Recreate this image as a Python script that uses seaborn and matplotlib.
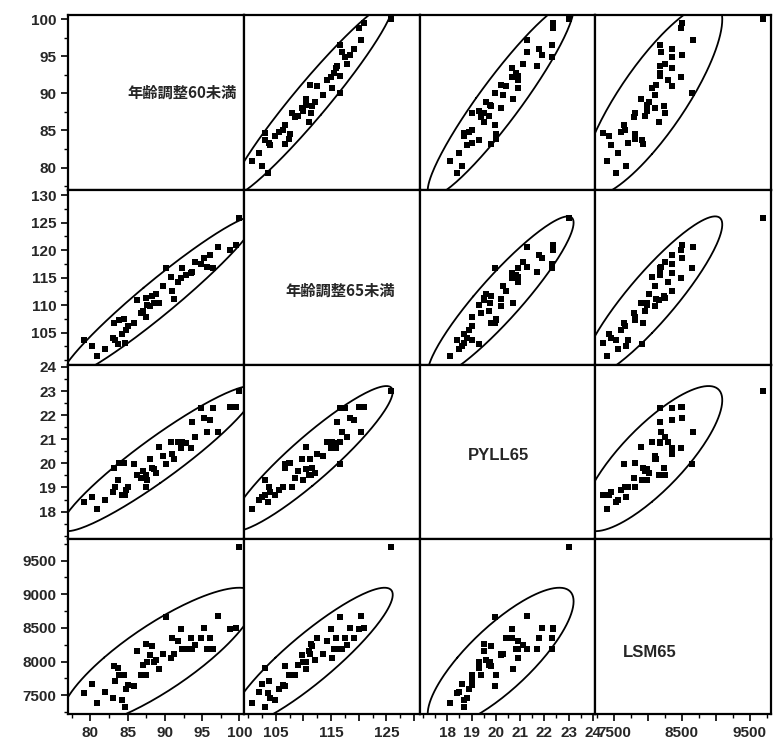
import matplotlib
matplotlib.use("Agg")
import matplotlib.pyplot as plt
from matplotlib.ticker import MultipleLocator, FixedLocator
import seaborn as sns
import numpy as np
import pandas as pd

age60 = [79.2, 80.2, 80.9, 83.0, 83.2, 83.3, 83.7, 83.9, 84.2, 84.5,
         84.6, 85.1, 85.8, 86.2, 87.4, 87.4, 87.6, 88.0, 88.3, 88.5,
         89.2, 90.1, 90.8, 91.0, 91.2, 92.2, 92.3, 92.8, 93.5, 93.7,
         94.9, 95.2, 95.6, 96.5, 97.2, 98.8, 99.5, 100.0, 86.8, 88.8,
         89.8, 91.8, 84.8, 94.0, 82.0, 87.0, 96.0]
age65 = [103.6, 102.5, 100.7, 104.0, 106.7, 103.7, 103.0, 107.3, 104.8, 107.5,
         103.1, 106.3, 106.7, 111.0, 107.9, 111.3, 110.0, 109.8, 111.6, 110.4,
         110.4, 116.7, 115.2, 112.5, 111.1, 114.9, 116.7, 115.5, 115.8, 116.0,
         117.5, 118.5, 117.0, 116.7, 120.5, 120.0, 121.0, 125.9, 108.5, 112.0,
         113.5, 114.3, 105.5, 117.8, 102.0, 109.0, 119.2]
pyll65 = [18.4, 18.6, 18.1, 18.8, 19.8, 19.0, 19.3, 20.0, 18.7, 20.0,
          18.7, 19.0, 19.96, 19.5, 19.0, 19.5, 19.3, 20.2, 19.8, 19.75,
          20.7, 19.96, 20.9, 20.4, 20.2, 20.65, 20.9, 20.85, 20.65, 21.7,
          22.3, 21.9, 21.3, 22.3, 21.3, 22.35, 22.35, 23.0, 19.4, 19.6,
          20.3, 20.9, 18.9, 21.1, 18.5, 19.7, 21.8]
lsm65 = [7530, 7670, 7390, 7455, 7930, 7705, 7905, 7805, 7430, 7805,
         7330, 7655, 7640, 8155, 7805, 8255, 7990, 8105, 8230, 7990,
         7890, 8655, 8055, 8355, 8120, 8490, 8180, 8180, 8355, 8180,
         8355, 8505, 8190, 8180, 8670, 8490, 8505, 9705, 7800, 8020,
         8110, 8300, 7600, 8250, 7550, 7950, 8350]

var_names = ["年齢調整60未満", "年齢調整65未満", "PYLL65", "LSM65"]
limits = [(77.0, 100.6), (99.2, 131.0), (16.85, 24.1), (7220, 9815)]
major_ticks = [[80, 85, 90, 95, 100], [105, 110, 115, 120, 125, 130],
               [18, 19, 20, 21, 22, 23, 24], [7500, 8000, 8500, 9000, 9500]]
xlabel_ticks = [[80, 85, 90, 95, 100], [105, 115, 125],
                [18, 19, 20, 21, 22, 23, 24], [7500, 8500, 9500]]
minor_steps = [2.5, 2.5, 0.5, 250]
label_pos = [(0.65, 0.555), (0.55, 0.42), (0.45, 0.48), (0.31, 0.35)]

df = pd.DataFrame({var_names[0]: age60, var_names[1]: age65,
                   var_names[2]: pyll65, var_names[3]: lsm65})

sns.set_style("white")
plt.rcParams['font.family'] = ['Noto Sans CJK JP', 'DejaVu Sans']


def density_ellipse(x, y, **kwargs):
    # 95% bivariate normal density ellipse
    ax = plt.gca()
    pts = np.column_stack([x, y])
    mu = pts.mean(axis=0)
    cov = np.cov(pts, rowvar=False)
    w, v = np.linalg.eigh(cov)
    t = np.linspace(0, 2 * np.pi, 200)
    circ = np.vstack([np.cos(t), np.sin(t)])
    ell = mu[:, None] + np.sqrt(5.991) * (v @ np.diag(np.sqrt(w)) @ circ)
    ax.plot(ell[0], ell[1], color="black", lw=1.3)


g = sns.PairGrid(df, height=1.8, aspect=1.0)
g.map_offdiag(sns.scatterplot, color="black", s=14, marker="s", linewidth=0)
g.map_offdiag(density_ellipse)
g.figure.set_size_inches(7.74, 7.47)
g.figure.subplots_adjust(left=0.088, right=0.996, top=0.980, bottom=0.044,
                         wspace=0, hspace=0)

for i in range(4):
    for j in range(4):
        ax = g.axes[i, j]
        ax.set_xlim(limits[j])
        ax.set_ylim(limits[i])
        ax.set_xlabel("")
        ax.set_ylabel("")
        for sp in ax.spines.values():
            sp.set_visible(True)
            sp.set_color("black")
            sp.set_linewidth(1.6)
        ax.tick_params(which="both", direction="out", color="black",
                       left=(j == 0), bottom=(i == 3), right=False, top=False)
        ax.tick_params(which="major", length=5, width=1.2)
        ax.tick_params(which="minor", length=3, width=1.0)

for i in range(4):
    ax = g.axes[i, 0]
    ax.yaxis.set_major_locator(FixedLocator(major_ticks[i]))
    ax.yaxis.set_minor_locator(MultipleLocator(minor_steps[i]))
    ax.set_yticks(major_ticks[i])
    ax.set_yticklabels([str(t) for t in major_ticks[i]], fontsize=11,
                       family="Liberation Sans", fontweight="bold")

for j in range(4):
    ax = g.axes[3, j]
    ax.xaxis.set_major_locator(FixedLocator(major_ticks[j]))
    ax.xaxis.set_minor_locator(MultipleLocator(minor_steps[j]))
    ax.set_xticks(major_ticks[j])
    ax.set_xticklabels([str(t) if t in xlabel_ticks[j] else "" for t in major_ticks[j]],
                       fontsize=11, family="Liberation Sans", fontweight="bold")

for k in range(4):
    ax = g.axes[k, k]
    fam = ['Noto Sans CJK JP', 'DejaVu Sans'] if k < 2 else ['Liberation Sans']
    ax.text(label_pos[k][0], label_pos[k][1], var_names[k], transform=ax.transAxes,
            ha="center", va="center", fontsize=11 if k < 2 else 12,
            fontweight="bold", family=fam, clip_on=True)

g.figure.savefig("out.png", dpi=100)
